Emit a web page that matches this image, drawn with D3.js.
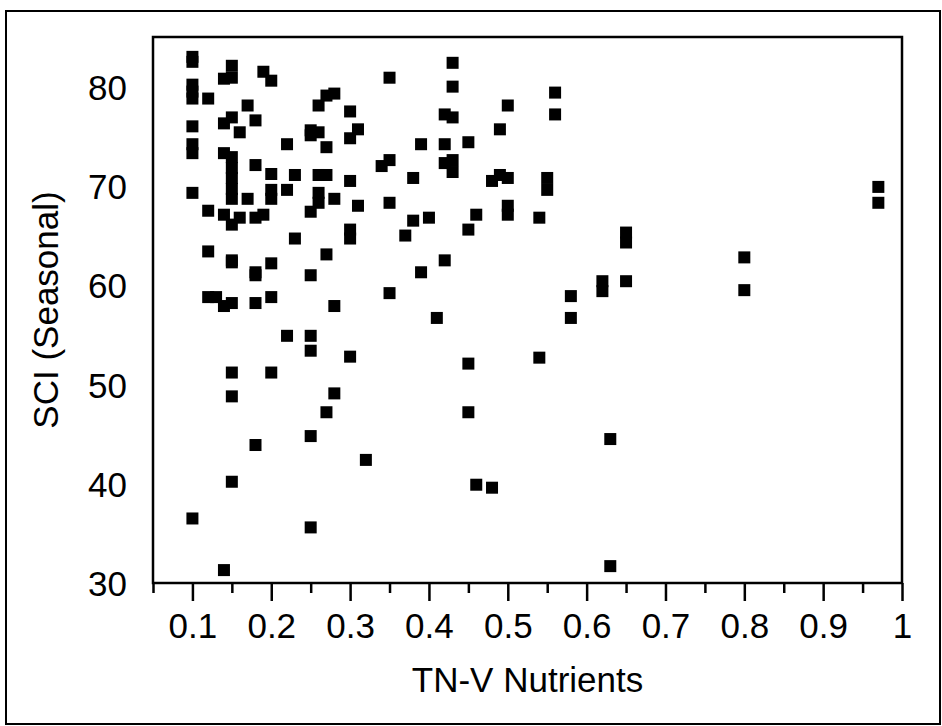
<!DOCTYPE html>
<html>
<head>
<meta charset="utf-8">
<script src="https://cdn.jsdelivr.net/npm/d3@7"></script>
<style>
  html, body { margin: 0; padding: 0; background: #fff; }
  svg { display: block; }
  text { font-family: "Liberation Sans", Arial, sans-serif; fill: #000; }
</style>
</head>
<body>
<svg id="chart" width="942" height="726"></svg>
<script>
// TN-V nutrient index (x) against seasonal SCI score (y), one entry per site
const nutrients = [
  0.10, 0.10, 0.15, 0.15, 0.14, 0.19, 0.20, 0.10, 0.10, 0.10,
  0.12, 0.17, 0.15, 0.14, 0.16, 0.18, 0.10, 0.10, 0.10, 0.14,
  0.15, 0.15, 0.15, 0.15, 0.15, 0.18, 0.20, 0.10, 0.17, 0.20,
  0.20, 0.12, 0.14, 0.15, 0.16, 0.18, 0.19,
  0.12, 0.15, 0.15, 0.20, 0.18, 0.18, 0.12, 0.13, 0.15, 0.14,
  0.18, 0.20, 0.15, 0.20, 0.15,
  0.18, 0.15, 0.10, 0.14,
  0.35, 0.28, 0.27, 0.26, 0.30, 0.25, 0.25, 0.26, 0.31, 0.30,
  0.22, 0.27, 0.35, 0.34, 0.23, 0.26, 0.27, 0.30, 0.22, 0.26,
  0.26, 0.28, 0.25, 0.31, 0.35, 0.38, 0.38,
  0.30, 0.30, 0.23, 0.37, 0.27, 0.25, 0.35, 0.28, 0.22, 0.25,
  0.25, 0.30, 0.28, 0.27,
  0.25, 0.32, 0.25,
  0.43, 0.43, 0.56, 0.50, 0.42, 0.43, 0.56, 0.49, 0.39, 0.42,
  0.45, 0.42, 0.43, 0.43, 0.48, 0.49, 0.50, 0.55, 0.55, 0.40,
  0.46, 0.50, 0.50, 0.54, 0.45, 0.42, 0.39, 0.58,
  0.58, 0.41, 0.54, 0.45, 0.45, 0.46, 0.48,
  0.97, 0.97, 0.65, 0.65, 0.80, 0.62, 0.62, 0.65, 0.80, 0.63,
  0.63
];
const sci = [
  83.0, 82.5, 82.1, 80.9, 80.8, 81.5, 80.6, 80.2, 79.5, 78.8,
  78.8, 78.1, 76.9, 76.3, 75.4, 76.6, 76.0, 74.2, 73.3, 73.3,
  72.9, 71.8, 70.8, 69.7, 68.7, 72.1, 71.2, 69.3, 68.7, 69.6,
  68.7, 67.5, 67.1, 66.1, 66.8, 66.8, 67.1,
  63.4, 62.5, 62.3, 62.2, 61.3, 61.0, 58.8, 58.8, 58.2, 57.9,
  58.2, 58.8, 51.2, 51.2, 48.8,
  43.9, 40.2, 36.5, 31.3,
  80.9, 79.3, 79.1, 78.1, 77.5, 75.6, 75.1, 75.4, 75.7, 74.8,
  74.2, 73.9, 72.6, 72.0, 71.1, 71.1, 71.1, 70.5, 69.6, 69.3,
  68.3, 68.7, 67.4, 68.0, 68.3, 70.8, 66.5,
  65.6, 64.7, 64.7, 65.0, 63.1, 61.0, 59.2, 57.9, 54.9, 54.9,
  53.4, 52.8, 49.1, 47.2,
  44.8, 42.4, 35.6,
  82.4, 80.0, 79.4, 78.1, 77.2, 76.9, 77.2, 75.7, 74.2, 74.2,
  74.4, 72.3, 72.6, 71.4, 70.5, 71.1, 70.8, 70.8, 69.6, 66.8,
  67.1, 68.0, 67.1, 66.8, 65.6, 62.5, 61.3, 58.9,
  56.7, 56.7, 52.7, 52.1, 47.2, 39.9, 39.6,
  69.9, 68.3, 65.3, 64.3, 62.8, 60.4, 59.4, 60.4, 59.5, 44.5,
  31.7
];

const xMajorTicks = [0.1, 0.2, 0.3, 0.4, 0.5, 0.6, 0.7, 0.8, 0.9, 1.0];
const xMinorTicks = [0.05, 0.15, 0.25, 0.35, 0.45, 0.55, 0.65, 0.75, 0.85, 0.95];
const yTicks = [30, 40, 50, 60, 70, 80];
const xDomain = [0.05, 1.0];
const yDomain = [30, 85];

const svg = d3.select("#chart");
const plot = { left: 153, right: 902, top: 37, bottom: 583 };

const x = d3.scaleLinear().domain(xDomain).range([plot.left, plot.right]);
const y = d3.scaleLinear().domain(yDomain).range([plot.bottom, plot.top]);

// outer border around the whole figure
svg.append("rect")
  .attr("x", 6).attr("y", 11)
  .attr("width", 934).attr("height", 713)
  .attr("fill", "none").attr("stroke", "#000").attr("stroke-width", 2);

// data squares
const pts = nutrients.map((v, i) => ({ x: v, y: sci[i] }));
const size = 12;
svg.append("g")
  .selectAll("rect")
  .data(pts)
  .join("rect")
  .attr("x", d => x(d.x) - size / 2)
  .attr("y", d => y(d.y) - size / 2)
  .attr("width", size)
  .attr("height", size)
  .attr("fill", "#000");

// bottom axis: minor ticks, then major ticks with labels
const minorAxis = d3.axisBottom(x).tickValues(xMinorTicks).tickSize(10).tickFormat("");
const gMinor = svg.append("g").attr("transform", `translate(0,${plot.bottom})`).call(minorAxis);
gMinor.select(".domain").remove();
gMinor.selectAll(".tick line").attr("stroke", "#000").attr("stroke-width", 2.5);

const majorAxis = d3.axisBottom(x).tickValues(xMajorTicks).tickSize(18)
  .tickFormat(d => d3.format("~g")(d));
const gMajor = svg.append("g").attr("transform", `translate(0,${plot.bottom})`).call(majorAxis);
gMajor.select(".domain").remove();
gMajor.selectAll(".tick line").attr("stroke", "#000").attr("stroke-width", 2.5);
gMajor.selectAll(".tick text")
  .attr("y", 55).attr("dy", 0)
  .attr("font-size", 35)
  .style("font-family", "'Liberation Sans', Arial, sans-serif")
  .attr("fill", "#000");

// left axis: labels only
const yAxis = d3.axisLeft(y).tickValues(yTicks).tickSize(0).tickPadding(26);
const gY = svg.append("g").attr("transform", `translate(${plot.left},0)`).call(yAxis);
gY.select(".domain").remove();
gY.selectAll(".tick text")
  .attr("font-size", 35)
  .attr("dy", "0.36em")
  .style("font-family", "'Liberation Sans', Arial, sans-serif")
  .attr("fill", "#000");

// plot frame
svg.append("rect")
  .attr("x", plot.left).attr("y", plot.top)
  .attr("width", plot.right - plot.left).attr("height", plot.bottom - plot.top)
  .attr("fill", "none").attr("stroke", "#000").attr("stroke-width", 2.5);

// axis titles
svg.append("text")
  .attr("x", (plot.left + plot.right) / 2).attr("y", 692)
  .attr("text-anchor", "middle").attr("font-size", 35)
  .text("TN-V Nutrients");

svg.append("text")
  .attr("transform", `translate(58,${(plot.top + plot.bottom) / 2}) rotate(-90)`)
  .attr("text-anchor", "middle").attr("font-size", 35)
  .text("SCI (Seasonal)");
</script>
</body>
</html>
